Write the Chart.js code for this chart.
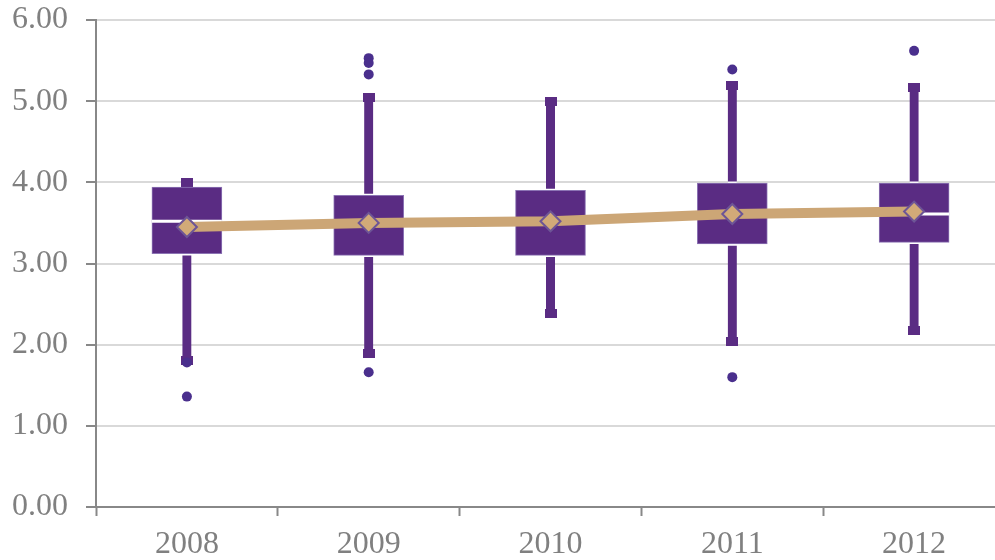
<!DOCTYPE html>
<html>
<head>
<meta charset="utf-8">
<script src="https://cdn.jsdelivr.net/npm/chart.js@4/dist/chart.umd.min.js"></script>
<style>
  html, body { margin: 0; padding: 0; background: #fff; overflow: hidden; }
  #wrap { width: 1010px; height: 560px; }
</style>
</head>
<body>
<div id="wrap"><canvas id="myChart"></canvas></div>
<script>
// 年份
var years = ['2008', '2009', '2010', '2011', '2012'];
// 箱形图数值
var lowWhisker  = [1.80, 1.89, 2.39, 2.04, 2.17];
var q1          = [3.12, 3.10, 3.10, 3.24, 3.26];
var median      = [3.52, 3.48, 3.50, 3.60, 3.61];
var q3          = [3.94, 3.84, 3.90, 3.99, 3.99];
var highWhisker = [4.00, 5.05, 5.00, 5.19, 5.17];
// 平均值
var mean = [3.45, 3.50, 3.52, 3.61, 3.64];
// 离群值
var outliers = [[1.78, 1.36], [5.53, 5.47, 5.33, 1.66], [], [5.39, 1.60], [5.62]];
// y 轴刻度
var yTicks = [0, 1, 2, 3, 4, 5, 6];

var purple = '#5a2c83';
var boxEdge = '#8c74b4';

// 须线端点小方块
var cap = document.createElement('canvas');
cap.width = 12; cap.height = 9;
var cctx = cap.getContext('2d');
cctx.fillStyle = purple;
cctx.fillRect(0, 0, 12, 9);

var outlierPts = [];
outliers.forEach(function(list, i) {
	list.forEach(function(v) { outlierPts.push({ x: years[i], y: v }); });
});

var ctx = document.getElementById('myChart');
var myChart = new Chart(ctx, {
	type: 'bar',
	data: {
		labels: years,
		datasets: [
			{
				// 下须
				data: years.map(function(y, i) { return [lowWhisker[i], q1[i]]; }),
				backgroundColor: purple,
				borderColor: '#ffffff',
				borderWidth: { top: 2, bottom: 0, left: 0, right: 0 },
				borderSkipped: false,
				barThickness: 9,
				grouped: false,
				order: 6
			},
			{
				// 上须
				data: years.map(function(y, i) { return [q3[i], highWhisker[i]]; }),
				backgroundColor: purple,
				borderColor: '#ffffff',
				borderWidth: { top: 0, bottom: 2, left: 0, right: 0 },
				borderSkipped: false,
				barThickness: 9,
				grouped: false,
				order: 6
			},
			{
				// 箱体
				data: years.map(function(y, i) { return [q1[i], q3[i]]; }),
				backgroundColor: purple,
				borderColor: boxEdge,
				borderWidth: 1,
				borderSkipped: false,
				barThickness: 70,
				grouped: false,
				order: 4
			},
			{
				type: 'line',
				data: highWhisker,
				showLine: false,
				pointStyle: cap,
				order: 5
			},
			{
				type: 'line',
				data: lowWhisker,
				showLine: false,
				pointStyle: cap,
				order: 5
			},
			{
				// 中位数
				type: 'line',
				data: median,
				showLine: false,
				pointStyle: 'line',
				pointRadius: 35,
				pointBorderWidth: 3,
				pointBorderColor: '#ffffff',
				order: 3
			},
			{
				// 离群值
				type: 'line',
				data: outlierPts,
				showLine: false,
				pointStyle: 'circle',
				pointRadius: 5,
				pointBackgroundColor: '#4a2f8d',
				pointBorderWidth: 0,
				order: 3
			},
			{
				// 平均值
				type: 'line',
				data: mean,
				borderColor: '#cca676',
				borderWidth: 10,
				tension: 0,
				pointStyle: 'rectRot',
				pointRadius: 10,
				pointBackgroundColor: '#d2aa78',
				pointBorderColor: '#6d5596',
				pointBorderWidth: 2,
				order: 0
			}
		]
	},
	options: {
		responsive: true,
		maintainAspectRatio: false,
		animation: false,
		layout: { autoPadding: false, padding: { top: 20, right: 5, left: 0, bottom: 0 } },
		plugins: {
			legend: { display: false },
			tooltip: { enabled: false }
		},
		scales: {
			x: {
				offset: true,
				grid: {
					offset: true,
					drawOnChartArea: false,
					tickLength: 9,
					tickColor: '#888888',
					tickWidth: 2
				},
				border: { color: '#888888', width: 2 },
				ticks: {
					color: '#808080',
					padding: 9,
					font: { family: 'Liberation Serif', size: 32 }
				},
				afterFit: function(scale) {
					scale.height = 53;
					scale.paddingLeft = 0;
					scale.paddingRight = 0;
				}
			},
			y: {
				min: 0,
				max: 6,
				afterBuildTicks: function(scale) {
					scale.ticks = yTicks.map(function(v) { return { value: v }; });
				},
				grid: {
					color: '#d9d9d9',
					lineWidth: 2,
					tickLength: 10,
					tickColor: '#888888',
					tickWidth: 2
				},
				border: { color: '#888888', width: 2 },
				ticks: {
					color: '#808080',
					padding: 18,
					font: { family: 'Liberation Serif', size: 32 },
					callback: function(v) { return Number(v).toFixed(2); }
				},
				afterFit: function(scale) {
					scale.width = 96;
					scale.paddingTop = 0;
					scale.paddingBottom = 0;
				}
			}
		}
	}
});
</script>
</body>
</html>
